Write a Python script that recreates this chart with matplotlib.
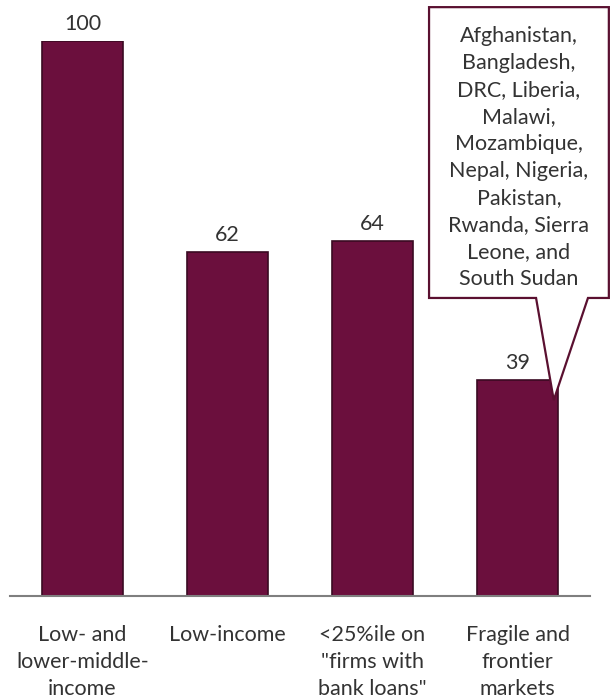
import numpy as np
import matplotlib
matplotlib.use("Agg")
import matplotlib.pyplot as plt
from matplotlib.patches import Polygon

# data
categories = ["Low- and\nlower-middle-\nincome", "Low-income",
              "<25%ile on\n\"firms with\nbank loans\"", "Fragile and\nfrontier\nmarkets"]
values = [100, 62, 64, 39]
callout_text = ("Afghanistan,\nBangladesh,\nDRC, Liberia,\nMalawi,\nMozambique,\n"
                "Nepal, Nigeria,\nPakistan,\nRwanda, Sierra\nLeone, and\nSouth Sudan")

plt.rcParams['font.family'] = ['Lato', 'DejaVu Sans']
txt_col = '#333333'
bar_col = '#6b0f3d'
edge_col = '#3a0a22'
fs = 15.5

fig = plt.figure(figsize=(6.11, 7.0), dpi=100)
ax = fig.add_axes([10/611, 104/700, 580/611, 555/700])

x = np.arange(len(values))
ax.bar(x, values, width=0.565, color=bar_col, edgecolor=edge_col, linewidth=1.2, zorder=2)
ax.set_xlim(-0.5, 3.5)
ax.set_ylim(0, 100)

for xi, v in zip(x, values):
    ax.text(xi, v + 1.2, str(v), ha='center', va='bottom', fontsize=fs, color=txt_col)

for xi, c in zip(x, categories):
    ax.text(xi, -5.3, c, ha='center', va='top', fontsize=fs, color=txt_col,
            linespacing=1.42)

for s in ['top', 'right', 'left']:
    ax.spines[s].set_visible(False)
ax.spines['bottom'].set_color('#7f7f7f')
ax.spines['bottom'].set_linewidth(1.5)
ax.set_xticks([])
ax.set_yticks([])

# callout for the fragile markets bar
x0, x1 = 2.39, 3.63
y0, y1 = 53.7, 106.1
tip = (3.25, values[3] - 3.7)
pts = [(x0, y1), (x1, y1), (x1, y0), (3.486, y0), tip, (3.128, y0), (x0, y0)]
poly = Polygon(pts, closed=True, facecolor='white', edgecolor='#5a1030',
               linewidth=1.6, clip_on=False, zorder=3)
ax.add_patch(poly)
ax.text((x0 + x1) / 2, 79.0, callout_text, ha='center', va='center',
        fontsize=fs, color=txt_col, linespacing=1.44, zorder=4, clip_on=False)

fig.savefig("out.png", dpi=100)
